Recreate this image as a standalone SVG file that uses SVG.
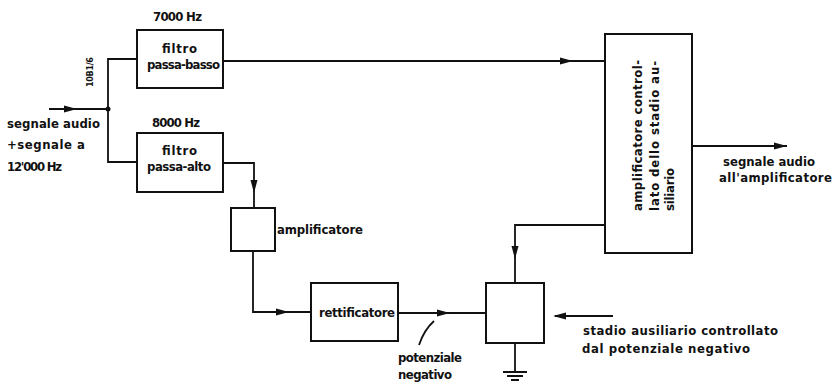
<svg xmlns="http://www.w3.org/2000/svg" width="835" height="385" viewBox="0 0 835 385">
<style>
.b{fill:none;stroke:#111;stroke-width:2}
.c{fill:none;stroke:#111;stroke-width:1.8}
.t{font-family:"DejaVu Sans Condensed","Liberation Sans Narrow","Liberation Sans",sans-serif;font-size:13px;font-weight:bold;fill:#111}
.s{font-size:9px}
</style>
<defs>
<path id="ah" d="M0,0 L-13,-3.5 L-13,3.5 Z" fill="#111"/>
</defs>
<rect width="835" height="385" fill="#fff"/>
<g id="connectors">
<path class="c" d="M49,109 H108"/>
<use href="#ah" transform="translate(77,109)"/>
<circle cx="108" cy="109" r="2.5" fill="#111"/>
<path class="c" d="M137,59 H108 V162 H137"/>
<path class="c" d="M223,61 H605"/>
<use href="#ah" transform="translate(573,61)"/>
<path class="c" d="M223,163 H254 V208"/>
<use href="#ah" transform="translate(254,193) rotate(90)"/>
<path class="c" d="M253,251 V312 H311"/>
<use href="#ah" transform="translate(289,312)"/>
<path class="c" d="M398,313 H486"/>
<use href="#ah" transform="translate(450,313)"/>
<path class="c" d="M419,345 Q424,330 434,321"/>
<path class="c" d="M605,225 H515 V283"/>
<use href="#ah" transform="translate(515,259) rotate(90)"/>
<path class="c" d="M692,146 H787"/>
<use href="#ah" transform="translate(787,146)"/>
<path class="c" d="M613,316 H555"/>
<use href="#ah" transform="translate(553,316) rotate(180)"/>
<path class="c" d="M515,343 V372"/>
<path class="c" d="M503,372 H527 M507,376 H523 M511,380 H519"/>
</g>
<g id="lowpass">
<rect class="b" x="137" y="30" width="86" height="58"/>
<text class="t" x="153" y="21" textLength="49">7000 Hz</text>
<text class="t" x="162" y="53" textLength="35">filtro</text>
<text class="t" x="147" y="69" textLength="73">passa-basso</text>
</g>
<g id="highpass">
<rect class="b" x="137" y="133" width="86" height="59"/>
<text class="t" x="152" y="127" textLength="48">8000 Hz</text>
<text class="t" x="162" y="155" textLength="35">filtro</text>
<text class="t" x="147" y="171" textLength="64">passa-alto</text>
</g>
<g id="input">
<text class="t" x="7" y="128" textLength="93">segnale audio</text>
<text class="t" x="7" y="149" textLength="78">+segnale a</text>
<text class="t" x="7" y="171" textLength="55">12'000 Hz</text>
<text class="t s" transform="translate(93,87) rotate(-90)" textLength="30">10B1/6</text>
</g>
<g id="amplifier">
<rect class="b" x="231" y="208" width="44" height="43"/>
<text class="t" x="277" y="234" textLength="86">amplificatore</text>
</g>
<g id="rectifier">
<rect class="b" x="311" y="283" width="87" height="58"/>
<text class="t" x="319" y="317" textLength="76">rettificatore</text>
<text class="t" x="398" y="362" textLength="64">potenziale</text>
<text class="t" x="398" y="379" textLength="54">negativo</text>
</g>
<g id="auxstage">
<rect class="b" x="486" y="283" width="58" height="60"/>
<text class="t" x="583" y="335" textLength="195">stadio ausiliario controllato</text>
<text class="t" x="582" y="353" textLength="168">dal potenziale negativo</text>
</g>
<g id="controlledamp">
<rect class="b" x="605" y="34" width="87" height="219"/>
<text class="t" transform="translate(642,211) rotate(-90)" textLength="151">amplificatore control-</text>
<text class="t" transform="translate(659,211) rotate(-90)" textLength="150">lato dello stadio au-</text>
<text class="t" transform="translate(674,211) rotate(-90)" textLength="43">siliario</text>
</g>
<g id="output">
<text class="t" x="723" y="166" textLength="92">segnale audio</text>
<text class="t" x="719" y="182" textLength="113">all'amplificatore</text>
</g>
</svg>
